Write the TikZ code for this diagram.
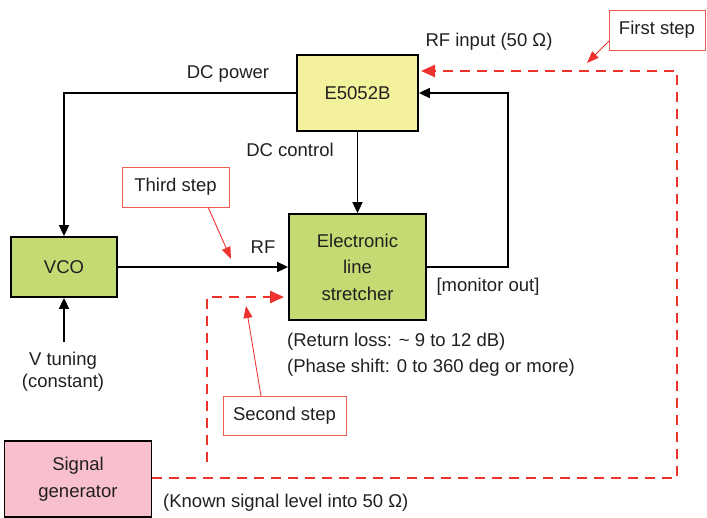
\documentclass[tikz,border=0pt]{standalone}
\usepackage{fontspec}
\setmainfont{Liberation Sans}
\usetikzlibrary{arrows.meta}
\definecolor{txt}{RGB}{35,31,32}
\definecolor{yel}{RGB}{243,241,155}
\definecolor{grn}{RGB}{196,218,115}
\definecolor{pnk}{RGB}{248,192,204}
\definecolor{redc}{RGB}{237,50,45}
\definecolor{redl}{RGB}{240,90,80}
\tikzset{
  blk/.style={draw=black, line width=1.8pt, text=txt, align=center, inner sep=0pt, font=\fontsize{18.5}{26.5}\selectfont},
  stepbox/.style={draw=redl, line width=0.9pt, fill=white, text=txt, inner sep=0pt, font=\fontsize{18.5}{20}\selectfont},
  lbl/.style={text=txt, inner sep=0pt, font=\fontsize{18.5}{22}\selectfont},
  conn/.style={draw=black, line width=1.7pt, -{Triangle[length=11pt,width=10pt]}},
  rdash/.style={draw=redc, line width=2.4pt, dash pattern=on 10pt off 7pt},
  rdarrow/.style={rdash, -{Triangle[length=14pt,width=12pt]}},
  stepar/.style={draw=redc, line width=0.9pt, -{Triangle[length=12pt,width=9pt]}}
}
\begin{document}
\begin{tikzpicture}[x=1pt,y=-1pt]
\useasboundingbox (0,0) rectangle (707,517);
% boxes
\node[blk, fill=yel, minimum width=121pt, minimum height=76pt] (e) at (357.5,93) {E5052B};
\node[blk, fill=grn, minimum width=137pt, minimum height=106pt] (s) at (357.5,267) {Electronic\\line\\stretcher};
\node[blk, fill=grn, minimum width=106pt, minimum height=60pt] (v) at (64,267) {VCO};
\node[blk, fill=pnk, minimum width=147pt, minimum height=76pt] (g) at (78,479) {Signal\\generator};
% step boxes
\node[stepbox, minimum width=107pt, minimum height=40pt] (s3) at (175.5,187) {Third step};
\node[stepbox, minimum width=123pt, minimum height=39pt] (s2) at (284.5,415.5) {Second step};
\node[stepbox, minimum width=96pt, minimum height=40pt] (s1) at (657,30) {First step};
% coordinates
\coordinate (fb) at (508,93);
\coordinate (vt) at (64,342);
\coordinate (rc) at (677,478);
\coordinate (rt) at (677,71);
\coordinate (rh) at (421,71);
\coordinate (d2b) at (207,462);
\coordinate (d2t) at (207,297);
\coordinate (d2h) at (284,297);
\coordinate (a1s) at (609,41);
\coordinate (a1e) at (587,63);
\coordinate (a3s) at (208,207);
\coordinate (a3e) at (231,259);
\coordinate (a2s) at (261,396);
\coordinate (a2e) at (246,306);
% black connectors
\draw[conn] (e.west) -| (v.north);
\draw[conn] (e.south) -- (s.north);
\draw[conn] (v.east) -- (s.west);
\draw[conn] (vt) -- (v.south);
\draw[conn] (s.east) -| (fb) -- (e.east);
% red dashed
\draw[rdarrow] (g.east |- rc) -- (rc) -- (rt) -- (rh);
\draw[rdarrow] (d2b) -- (d2t) -- (d2h);
% step arrows
\draw[stepar] (a1s) -- (a1e);
\draw[stepar] (a3s) -- (a3e);
\draw[stepar] (a2s) -- (a2e);
% labels
\node[lbl] (l1) at (489,42) {RF input (50 Ω)};
\node[lbl] (l2) at (228,74) {DC power};
\node[lbl] (l3) at (290,150) {DC control};
\node[lbl] (l4) at (263,247) {RF};
\node[lbl] (l5) at (488,287) {[monitor out]};
\node[lbl, anchor=west] (l6) at (287,342) {(Return loss: \textasciitilde{} 9 to 12 dB)};
\node[lbl, anchor=west] (l7) at (287,368) {(Phase shift: 0 to 360 deg or more)};
\node[lbl] (l8) at (63,361) {V tuning};
\node[lbl] (l9) at (63,383) {(constant)};
\node[lbl, anchor=west] (l10) at (163,503) {(Known signal level into 50 Ω)};
\end{tikzpicture}
\end{document}
